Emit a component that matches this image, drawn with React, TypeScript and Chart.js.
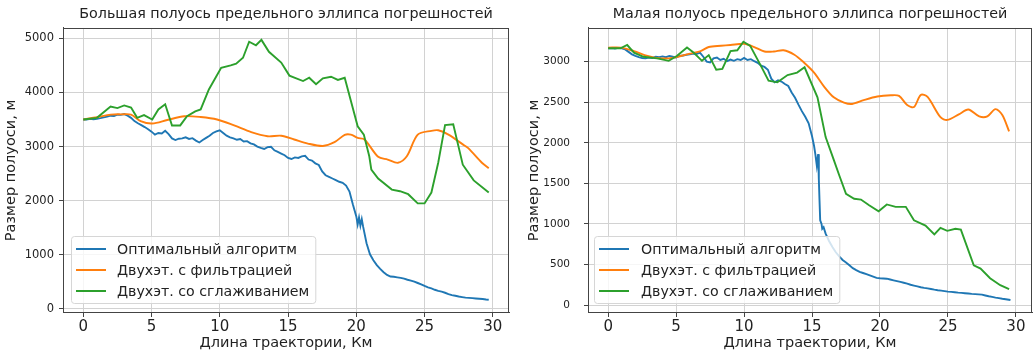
import React, { useEffect, useRef } from 'react';
import { Chart, registerables } from 'chart.js';

Chart.register(...registerables);

const FONT = '"DejaVu Sans", "Liberation Sans", sans-serif';
const TEXT_COLOR = '#222222';

const X_TICKS = [0, 5, 10, 15, 20, 25, 30];
const MAJOR_Y_TICKS = [0, 1000, 2000, 3000, 4000, 5000];
const MINOR_Y_TICKS = [0, 500, 1000, 1500, 2000, 2500, 3000];

const SERIES_NAMES = ['Оптимальный алгоритм', 'Двухэт. с фильтрацией', 'Двухэт. со сглаживанием'];
const SERIES_COLORS = ['#1f77b4', '#ff7f0e', '#2ca02c'];

const MAJOR_TITLE = 'Большая полуось предельного эллипса погрешностей';
const MINOR_TITLE = 'Малая полуось предельного эллипса погрешностей';
const X_LABEL = 'Длина траектории, Км';
const Y_LABEL = 'Размер полуоси, м';

// [km, metres]
const majorOptimal: number[][] = [
  [0, 3500], [0.25, 3498], [0.5, 3510], [0.75, 3502], [1, 3512], [1.25, 3525], [1.5, 3540], [1.75, 3552],
  [2, 3570], [2.25, 3565], [2.5, 3590], [2.75, 3585], [3, 3600], [3.25, 3570], [3.5, 3530], [3.75, 3470],
  [4, 3430], [4.25, 3395], [4.5, 3360], [4.75, 3320], [5, 3275], [5.25, 3220], [5.5, 3250], [5.75, 3240],
  [6, 3290], [6.25, 3230], [6.5, 3150], [6.75, 3120], [7, 3145], [7.25, 3150], [7.5, 3170], [7.75, 3140],
  [8, 3155], [8.25, 3110], [8.5, 3075], [8.75, 3120], [9, 3160], [9.25, 3200], [9.5, 3250], [9.75, 3280],
  [10, 3300], [10.25, 3250], [10.5, 3200], [10.75, 3170], [11, 3150], [11.25, 3125], [11.5, 3140], [11.75, 3095],
  [12, 3100], [12.25, 3060], [12.5, 3040], [12.75, 3000], [13, 2975], [13.25, 2955], [13.5, 2990], [13.75, 2995],
  [14, 2930], [14.25, 2900], [14.5, 2870], [14.75, 2840], [15, 2790], [15.25, 2770], [15.5, 2800], [15.75, 2790],
  [16, 2820], [16.25, 2830], [16.5, 2760], [16.75, 2740], [17, 2690], [17.25, 2660], [17.5, 2540], [17.75, 2470],
  [18, 2440], [18.25, 2410], [18.5, 2380], [18.75, 2350], [19, 2330], [19.25, 2280], [19.5, 2170], [19.75, 1930],
  [20, 1710], [20.1, 1560], [20.2, 1690], [20.3, 1540], [20.4, 1660], [20.5, 1520], [20.75, 1215], [21, 1010],
  [21.25, 900], [21.5, 810], [21.75, 740], [22, 680], [22.25, 630], [22.5, 600], [22.75, 595], [23, 585],
  [23.25, 575], [23.5, 560], [23.75, 540], [24, 525], [24.25, 505], [24.5, 480], [24.75, 455], [25, 425],
  [25.25, 400], [25.5, 380], [25.75, 355], [26, 335], [26.25, 320], [26.5, 300], [26.75, 275], [27, 255],
  [27.25, 245], [27.5, 230], [27.75, 220], [28, 210], [28.25, 205], [28.5, 200], [28.75, 195], [29, 190],
  [29.25, 185], [29.5, 175], [29.7, 170],
];

const majorFiltered: number[][] = [
  [0, 3500], [1, 3540], [2, 3590], [2.75, 3595], [3.5, 3590], [4.2, 3470], [5.05, 3425], [6.15, 3490],
  [7.4, 3560], [8.6, 3545], [9.8, 3500], [11.05, 3390], [12.3, 3265], [13.5, 3190], [14.5, 3200], [15.45, 3130],
  [16.45, 3055], [17.55, 3010], [18.4, 3080], [19.15, 3215], [19.6, 3220], [20.1, 3160], [20.6, 3130], [21.6, 2810],
  [22.3, 2760], [23.05, 2700], [23.7, 2820], [24.5, 3220], [25.5, 3290], [26, 3300], [26.75, 3220], [27.8, 3040],
  [28.2, 2970], [29.2, 2700], [29.7, 2600],
];

const majorSmoothed: number[][] = [
  [0, 3500], [1, 3530], [2, 3740], [2.5, 3710], [3, 3760], [3.5, 3720], [3.95, 3530], [4.45, 3580],
  [5.05, 3500], [5.5, 3685], [6, 3780], [6.5, 3390], [7.1, 3390], [7.6, 3560], [8.2, 3650], [8.6, 3685],
  [9.2, 4055], [10.1, 4455], [10.8, 4500], [11.2, 4530], [11.7, 4640], [12.15, 4935], [12.65, 4870], [13.05, 4970],
  [13.6, 4750], [14.5, 4550], [15.1, 4310], [16.1, 4210], [16.55, 4270], [17.05, 4150], [17.55, 4260], [18.15, 4290],
  [18.65, 4230], [19.15, 4270], [20.1, 3375], [20.55, 3220], [20.95, 2820], [21.1, 2575], [21.6, 2410], [22.6, 2205],
  [23.2, 2175], [23.8, 2120], [24.5, 1950], [25, 1950], [25.5, 2150], [26, 2700], [26.5, 3395], [27.1, 3410],
  [27.8, 2665], [28.6, 2375], [29.7, 2150],
];

const minorOptimal: number[][] = [
  [0, 3165], [0.25, 3168], [0.5, 3160], [0.75, 3170], [1, 3165], [1.25, 3150], [1.5, 3120], [1.75, 3090],
  [2, 3070], [2.25, 3055], [2.5, 3045], [2.75, 3040], [3, 3050], [3.25, 3045], [3.5, 3060], [3.75, 3055],
  [4, 3065], [4.25, 3055], [4.5, 3070], [4.75, 3060], [5, 3050], [5.25, 3070], [5.5, 3075], [5.75, 3085],
  [6, 3090], [6.25, 3100], [6.5, 3095], [6.75, 3110], [7, 3060], [7.25, 3000], [7.5, 2990], [7.75, 3040],
  [8, 3050], [8.25, 3020], [8.5, 3035], [8.75, 3005], [9, 3025], [9.25, 3010], [9.5, 3030], [9.75, 3020],
  [10, 3045], [10.25, 3020], [10.5, 3030], [10.75, 3005], [11, 2985], [11.25, 2950], [11.5, 2935], [11.75, 2900],
  [12, 2790], [12.25, 2745], [12.5, 2770], [12.75, 2755], [13, 2725], [13.25, 2700], [13.5, 2620], [13.75, 2555],
  [14, 2470], [14.25, 2390], [14.5, 2320], [14.75, 2240], [15, 2080], [15.15, 1960], [15.25, 1850], [15.35, 1720],
  [15.45, 1860], [15.5, 1550], [15.55, 1290], [15.6, 1045], [15.7, 1000], [15.75, 940], [15.85, 960], [16, 880],
  [16.25, 790], [16.5, 715], [16.75, 650], [17, 600], [17.25, 555], [17.5, 525], [17.75, 490], [18, 455],
  [18.25, 430], [18.5, 410], [18.75, 395], [19, 380], [19.25, 365], [19.5, 350], [19.75, 335], [20, 330],
  [20.25, 328], [20.5, 325], [20.75, 315], [21, 305], [21.25, 295], [21.5, 285], [21.75, 275], [22, 265],
  [22.25, 250], [22.5, 240], [22.75, 230], [23, 220], [23.25, 212], [23.5, 205], [23.75, 198], [24, 190],
  [24.25, 183], [24.5, 178], [24.75, 172], [25, 166], [25.25, 162], [25.5, 158], [25.75, 153], [26, 150],
  [26.25, 146], [26.5, 142], [26.75, 138], [27, 135], [27.25, 132], [27.5, 128], [27.75, 118], [28, 108],
  [28.25, 100], [28.5, 92], [28.75, 85], [29, 78], [29.25, 72], [29.6, 62],
];

const minorFiltered: number[][] = [
  [0, 3173], [0.93, 3173], [1.9, 3130], [2.9, 3070], [3.85, 3040], [4.85, 3050], [5.8, 3090], [6.8, 3130],
  [7.4, 3180], [8.3, 3195], [9, 3205], [10, 3220], [10.75, 3180], [11.5, 3125], [12.2, 3125], [12.9, 3140],
  [13.7, 3085], [14.4, 2990], [15.15, 2865], [15.9, 2690], [16.6, 2560], [17.35, 2495], [17.95, 2478], [18.8, 2525],
  [19.8, 2570], [20.8, 2585], [21.4, 2578], [22, 2465], [22.5, 2440], [23, 2590], [23.5, 2565], [24.45, 2315],
  [24.95, 2282], [25.8, 2350], [26.5, 2410], [27.3, 2325], [27.9, 2325], [28.5, 2415], [29, 2342], [29.5, 2140],
];

const minorSmoothed: number[][] = [
  [0, 3165], [0.9, 3165], [1.4, 3205], [1.9, 3110], [2.6, 3060], [3.6, 3040], [4.45, 3010], [5.05, 3070],
  [5.8, 3175], [6.3, 3110], [6.9, 3010], [7.4, 3080], [7.95, 2900], [8.4, 2910], [9, 3130], [9.5, 3140],
  [9.95, 3245], [10.45, 3195], [11.2, 2960], [11.8, 2765], [12.45, 2745], [13.2, 2835], [13.9, 2865], [14.45, 2930],
  [15.4, 2560], [16, 2070], [16.6, 1790], [17, 1600], [17.5, 1370], [18.1, 1310], [18.6, 1300], [19.2, 1230],
  [19.9, 1155], [20.5, 1240], [21.15, 1210], [21.9, 1210], [22.5, 1045], [23.35, 980], [24, 870], [24.45, 950],
  [24.95, 915], [25.55, 940], [25.95, 930], [26.9, 490], [27.4, 450], [28.1, 330], [28.85, 245], [29.5, 195],
];

const toPoints = (arr: number[][]) => arr.map(([x, y]) => ({ x, y }));

const legendPlugin = {
  id: 'mplLegend',
  afterDraw(chart: any, _args: any, opts: any) {
    const { ctx, chartArea } = chart;
    ctx.save();
    ctx.font = `14.2px ${FONT}`;
    const maxW = Math.max(...SERIES_NAMES.map((n) => ctx.measureText(n).width));
    const bx = chartArea.left + opts.offsetLeft;
    const bw = opts.textOffset + maxW + 6;
    const bh = 67;
    const by = chartArea.bottom - opts.offsetBottom - bh;
    ctx.beginPath();
    if (ctx.roundRect) ctx.roundRect(bx + 0.5, by + 0.5, bw, bh, 3);
    else ctx.rect(bx + 0.5, by + 0.5, bw, bh);
    ctx.fillStyle = 'rgba(255,255,255,0.8)';
    ctx.fill();
    ctx.strokeStyle = '#d6d6d6';
    ctx.lineWidth = 1;
    ctx.stroke();
    SERIES_NAMES.forEach((name, i) => {
      const yy = by + 13 + i * 21;
      ctx.beginPath();
      ctx.moveTo(bx + 5, yy);
      ctx.lineTo(bx + 35, yy);
      ctx.strokeStyle = SERIES_COLORS[i];
      ctx.lineWidth = 2;
      ctx.stroke();
      ctx.fillStyle = TEXT_COLOR;
      ctx.textBaseline = 'middle';
      ctx.textAlign = 'left';
      ctx.fillText(name, bx + opts.textOffset, yy + 1);
    });
    ctx.restore();
  },
};

const framePlugin = {
  id: 'mplFrame',
  afterDatasetsDraw(chart: any) {
    const { ctx, chartArea } = chart;
    ctx.save();
    ctx.strokeStyle = '#444444';
    ctx.lineWidth = 1;
    ctx.strokeRect(
      Math.round(chartArea.left) + 0.5,
      Math.round(chartArea.top) + 0.5,
      Math.round(chartArea.right - chartArea.left) - 1,
      Math.round(chartArea.bottom - chartArea.top) - 1,
    );
    ctx.restore();
  },
};

type PanelCfg = {
  title: string;
  series: number[][][];
  yTicks: number[];
  yMin: number;
  yMax: number;
  yAxisWidth: number;
  yTickPad: number;
  yTickFont: number;
  yTitlePad: number;
  padRight: number;
  legendLeft: number;
  legendTextOffset: number;
};

function makeConfig(p: PanelCfg): any {
  return {
    type: 'line',
    data: {
      datasets: p.series.map((s, i) => ({
        label: SERIES_NAMES[i],
        data: toPoints(s),
        borderColor: SERIES_COLORS[i],
        backgroundColor: SERIES_COLORS[i],
        borderWidth: 1.9,
        pointRadius: 0,
        tension: i === 1 ? 0.3 : 0,
        fill: false,
        order: 3 - i,
      })),
    },
    options: {
      responsive: false,
      animation: false,
      devicePixelRatio: 1,
      layout: { padding: { left: 0, right: p.padRight, top: 0, bottom: 0 } },
      plugins: {
        legend: { display: false },
        tooltip: { enabled: false },
        title: {
          display: true,
          text: p.title,
          fullSize: false,
          color: TEXT_COLOR,
          font: { family: FONT, size: 14.3, weight: 'normal', lineHeight: 1.2 },
          padding: { top: 6, bottom: 4.8 },
        },
        mplLegend: { offsetLeft: p.legendLeft, offsetBottom: 10, textOffset: p.legendTextOffset },
      },
      scales: {
        x: {
          type: 'linear',
          min: -1.485,
          max: 31.185,
          afterBuildTicks: (scale: any) => {
            scale.ticks = X_TICKS.map((v) => ({ value: v }));
          },
          afterFit: (scale: any) => {
            scale.height = 41;
          },
          ticks: {
            color: TEXT_COLOR,
            font: { family: FONT, size: 15 },
            padding: 1,
            maxRotation: 0,
            autoSkip: false,
          },
          grid: { color: '#d2d2d2', lineWidth: 1, drawTicks: true, tickLength: 4, tickColor: '#444444' },
          border: { display: true, color: '#444444', width: 1 },
          title: {
            display: true,
            text: X_LABEL,
            color: TEXT_COLOR,
            font: { family: FONT, size: 14.5, lineHeight: 1.2 },
            padding: { top: 0, bottom: 2 },
          },
        },
        y: {
          type: 'linear',
          min: p.yMin,
          max: p.yMax,
          afterBuildTicks: (scale: any) => {
            scale.ticks = p.yTicks.map((v) => ({ value: v }));
          },
          afterFit: (scale: any) => {
            scale.width = p.yAxisWidth;
          },
          ticks: {
            color: TEXT_COLOR,
            font: { family: FONT, size: p.yTickFont },
            padding: p.yTickPad,
            autoSkip: false,
            callback: (v: any) => String(v),
          },
          grid: { color: '#d2d2d2', lineWidth: 1, drawTicks: true, tickLength: 4, tickColor: '#444444' },
          border: { display: true, color: '#444444', width: 1 },
          title: {
            display: true,
            text: Y_LABEL,
            color: TEXT_COLOR,
            font: { family: FONT, size: 14.5, lineHeight: 1.2 },
            padding: { top: p.yTitlePad, bottom: 0 },
          },
        },
      },
    },
    plugins: [framePlugin, legendPlugin],
  };
}

function Panel({ cfg, left, width }: { cfg: PanelCfg; left: number; width: number }) {
  const ref = useRef<HTMLCanvasElement | null>(null);
  useEffect(() => {
    if (!ref.current) return;
    const chart = new Chart(ref.current, makeConfig(cfg));
    return () => chart.destroy();
  }, [cfg]);
  return (
    <canvas
      ref={ref}
      width={width}
      height={354}
      style={{ position: 'absolute', left, top: 0, width, height: 354 }}
    />
  );
}

const MAJOR_PANEL: PanelCfg = {
  title: MAJOR_TITLE,
  series: [majorOptimal, majorFiltered, majorSmoothed],
  yTicks: MAJOR_Y_TICKS,
  yMin: -74,
  yMax: 5190,
  yAxisWidth: 63,
  yTickPad: 5,
  yTickFont: 11.5,
  yTitlePad: 3,
  padRight: 6,
  legendLeft: 8,
  legendTextOffset: 46,
};

const MINOR_PANEL: PanelCfg = {
  title: MINOR_TITLE,
  series: [minorOptimal, minorFiltered, minorSmoothed],
  yTicks: MINOR_Y_TICKS,
  yMin: -98,
  yMax: 3415,
  yAxisWidth: 73,
  yTickPad: 14,
  yTickFont: 10.5,
  yTitlePad: 11,
  padRight: 3,
  legendLeft: 6,
  legendTextOffset: 47,
};

export default function App() {
  return (
    <div style={{ position: 'absolute', left: 0, top: 0, width: 1035, height: 354, background: '#ffffff' }}>
      <Panel cfg={MAJOR_PANEL} left={0} width={515} />
      <Panel cfg={MINOR_PANEL} left={515} width={520} />
    </div>
  );
}
